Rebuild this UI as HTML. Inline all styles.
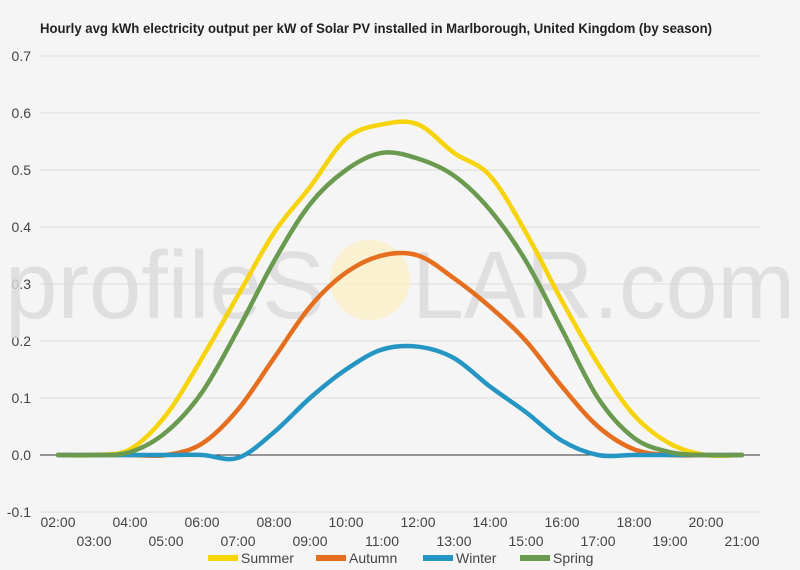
<!DOCTYPE html>
<html><head><meta charset="utf-8"><style>
html,body{margin:0;padding:0;background:#f5f5f5;}
svg{display:block;font-family:"Liberation Sans",sans-serif;}
</style></head><body>
<svg id="chart" width="800" height="570">
<rect width="800" height="570" fill="#f5f5f5"/>
<text x="40" y="33" font-size="14" font-weight="bold" fill="#222" textLength="672" lengthAdjust="spacingAndGlyphs">Hourly avg kWh electricity output per kW of Solar PV installed in Marlborough, United Kingdom (by season)</text>
<g id="grid"></g>
<g id="watermark">
<circle cx="370" cy="280" r="40" fill="#fbefc0" opacity="0.7"/>
<text x="5" y="318" font-size="96" fill="#dadada" opacity="0.8" textLength="320" lengthAdjust="spacingAndGlyphs">profileS</text>
<text x="412" y="318" font-size="96" fill="#dadada" opacity="0.8" textLength="383" lengthAdjust="spacingAndGlyphs">LAR.com</text>
</g>
<g id="series"></g>
<g id="xlabels"></g>
<g id="legend"></g>
</svg>
<script>
const hours=["02:00","03:00","04:00","05:00","06:00","07:00","08:00","09:00","10:00","11:00","12:00","13:00","14:00","15:00","16:00","17:00","18:00","19:00","20:00","21:00"];
const yTicks=[-0.1,0,0.1,0.2,0.3,0.4,0.5,0.6,0.7];
const summer=[0,0,0.01,0.07,0.17,0.28,0.39,0.47,0.555,0.58,0.58,0.53,0.49,0.39,0.27,0.16,0.07,0.02,0,0];
const autumn=[0,0,0,0,0.02,0.08,0.17,0.26,0.32,0.35,0.35,0.31,0.26,0.2,0.12,0.05,0.01,0,0,0];
const winter=[0,0,0,0,0,-0.005,0.04,0.1,0.15,0.185,0.19,0.17,0.12,0.075,0.025,0,0,0,0,0];
const spring=[0,0,0.005,0.04,0.11,0.22,0.34,0.44,0.5,0.53,0.52,0.49,0.43,0.34,0.22,0.1,0.03,0.005,0,0];
const seriesNames=["Summer","Autumn","Winter","Spring"];
const NS="http://www.w3.org/2000/svg";
const colors=["#f7d30a","#e56f1f","#2596c4","#6a9a4f"];
const X=i=>58+i*36;
const Y=v=>455-v*570;
function mk(tag,attrs,parent){const e=document.createElementNS(NS,tag);for(const k in attrs)e.setAttribute(k,attrs[k]);parent.appendChild(e);return e;}
const grid=document.getElementById('grid');
yTicks.forEach(t=>{
  const l=mk('line',{x1:40,x2:760,y1:Y(t),y2:Y(t),stroke:t===0?'#333':'#dcdcdc','stroke-width':1},grid);
  
  
  const tx=mk('text',{x:31,y:Y(t)+5,'font-size':14,fill:'#444','text-anchor':'end'},grid);
  tx.textContent=t.toFixed(1);
  
  
});
const xl=document.getElementById('xlabels');
hours.forEach((h,i)=>{
  const tx=mk('text',{x:X(i),y:i%2===0?527:546,'font-size':14,fill:'#444','text-anchor':'middle'},xl);
  tx.textContent=h;
  
  
});
function path(vals){
  const p=vals.map((v,i)=>[X(i),Y(v)]);
  let d=`M${p[0][0]},${p[0][1]}`;
  for(let i=0;i<p.length-1;i++){
    const p0=p[i-1]||p[i],p1=p[i],p2=p[i+1],p3=p[i+2]||p2;
    const c1=[p1[0]+(p2[0]-p0[0])/6,p1[1]+(p2[1]-p0[1])/6];
    const c2=[p2[0]-(p3[0]-p1[0])/6,p2[1]-(p3[1]-p1[1])/6];
    d+=` C${c1[0]},${c1[1]} ${c2[0]},${c2[1]} ${p2[0]},${p2[1]}`;
  }
  return d;
}
const sg=document.getElementById('series');
[summer,autumn,winter,spring].forEach((vals,k)=>{
  const pe=mk('path',{d:path(vals),fill:'none',stroke:colors[k],'stroke-width':4.5,'stroke-linejoin':'round','stroke-linecap':'round'},sg);
  
  
});
const lg=document.getElementById('legend');
const lx=[208,316,423,520];
seriesNames.forEach((n,k)=>{
  const r=mk('rect',{x:lx[k],y:555,width:30,height:6,fill:colors[k]},lg);
  
  
  const t=mk('text',{x:lx[k]+33,y:563,'font-size':14,fill:'#444'},lg);
  t.textContent=n;
  
  
});
</script>
</body></html>
